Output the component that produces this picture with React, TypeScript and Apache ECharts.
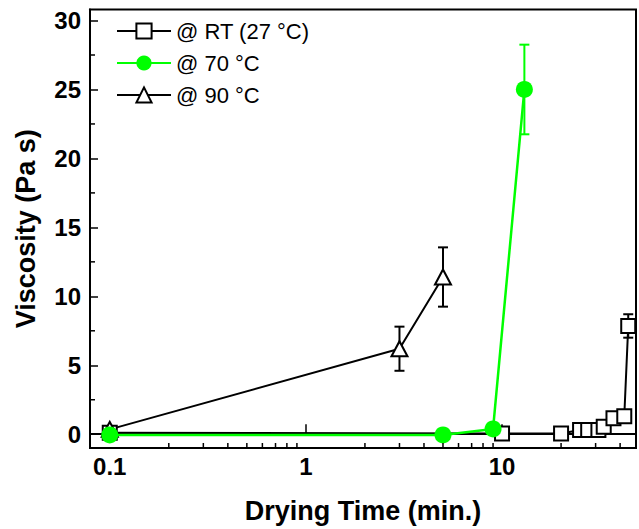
import React, { useEffect, useRef } from "react";
import * as echarts from "echarts";

// ---- data ----
const rtTime = [0.1, 10, 20, 25, 27.5, 31, 33, 37, 42, 44];
const rtVisc = [0.1, 0.05, 0.05, 0.3, 0.3, 0.3, 0.55, 1.15, 1.3, 7.85];
const rtErr = [0, 0, 0, 0, 0, 0, 0, 0, 0, 0.85];

const t70Time = [0.1, 5, 9, 13];
const t70Visc = [-0.05, -0.05, 0.38, 25];
const t70Err = [0, 0, 0, 3.25];

const t90Time = [0.1, 3, 5];
const t90Visc = [0.35, 6.2, 11.4];
const t90Err = [0, 1.6, 2.15];

const seriesNames = ["@ RT (27 °C)", "@ 70 °C", "@ 90 °C"];
const yMajor = [0, 5, 10, 15, 20, 25, 30];
const yMinor = [2.5, 7.5, 12.5, 17.5, 22.5, 27.5];
const xMajorLabels = ["0.1", "1", "10"];
const xMinor = [0.2, 0.3, 0.4, 0.5, 0.6, 0.7, 0.8, 0.9, 2, 3, 4, 5, 6, 7, 8, 9, 20, 30, 40];

const FONT = "Liberation Sans, Arial, Helvetica, sans-serif";
const GREEN = "#00ff00";

function pairs(xs: number[], ys: number[]) {
  return xs.map((x, i) => [x, ys[i]]);
}
function errData(xs: number[], ys: number[], es: number[]) {
  return xs
    .map((x, i) => [x, ys[i] - es[i], ys[i] + es[i], es[i]])
    .filter((d) => d[3] > 0);
}

function errorBarSeries(data: number[][], color: string) {
  return {
    type: "custom",
    silent: true,
    z: 1,
    encode: { x: 0, y: [1, 2] },
    data,
    renderItem: (params: any, api: any) => {
      const x = api.value(0);
      const p1 = api.coord([x, api.value(2)]);
      const p2 = api.coord([x, api.value(1)]);
      const hw = 5;
      const st = { stroke: color, lineWidth: 2 };
      return {
        type: "group",
        children: [
          { type: "line", shape: { x1: p1[0], y1: p1[1], x2: p2[0], y2: p2[1] }, style: st },
          { type: "line", shape: { x1: p1[0] - hw, y1: p1[1], x2: p1[0] + hw, y2: p1[1] }, style: st },
          { type: "line", shape: { x1: p2[0] - hw, y1: p2[1], x2: p2[0] + hw, y2: p2[1] }, style: st },
        ],
      };
    },
  };
}

export default function App() {
  const ref = useRef<HTMLDivElement>(null);
  useEffect(() => {
    if (!ref.current) return;
    const chart = echarts.init(ref.current, undefined, { renderer: "svg" });
    const option: any = {
      animation: false,
      backgroundColor: "#fff",
      grid: {
        left: 90,
        top: 9.5,
        right: -5,
        bottom: 79,
        show: true,
        borderColor: "#000",
        borderWidth: 2,
        backgroundColor: "transparent",
      },
      legend: {
        orient: "vertical",
        left: 116,
        top: 20,
        padding: 0,
        itemWidth: 54,
        itemHeight: 19,
        itemGap: 10,
        data: seriesNames,
        textStyle: { fontFamily: FONT, fontSize: 22, color: "#000" },
      },
      xAxis: {
        type: "log",
        logBase: 10,
        min: 0.0793,
        max: 48.2,
        name: "Drying Time (min.)",
        nameLocation: "middle",
        nameGap: 49,
        nameTextStyle: { fontFamily: FONT, fontSize: 27, fontWeight: "bold", color: "#000" },
        axisLine: { lineStyle: { color: "#000", width: 2 } },
        axisTick: { inside: true, length: 10, lineStyle: { color: "#000", width: 1.5 } },
        axisLabel: {
          margin: 6,
          fontFamily: FONT,
          fontSize: 24,
          fontWeight: "bold",
          color: "#000",
          formatter: (v: number) => {
            const l = Math.log10(v);
            const r = Math.round(l);
            if (Math.abs(l - r) > 1e-6) return "";
            const idx = r + 1;
            return xMajorLabels[idx] ?? "";
          },
        },
        splitLine: { show: false },
        minorTick: { show: false },
      },
      yAxis: {
        type: "value",
        min: -1,
        max: 30.8,
        name: "Viscosity (Pa s)",
        nameLocation: "middle",
        nameGap: 51,
        nameTextStyle: { fontFamily: FONT, fontSize: 27, fontWeight: "bold", color: "#000" },
        axisLine: { show: true, lineStyle: { color: "#000", width: 2 } },
        axisTick: {
          inside: true,
          length: 8,
          customValues: yMajor,
          lineStyle: { color: "#000", width: 1.5 },
        },
        axisLabel: {
          margin: 9,
          customValues: yMajor,
          fontFamily: FONT,
          fontSize: 24,
          fontWeight: "bold",
          color: "#000",
        },
        splitLine: { show: false },
      },
      series: [
        // minor ticks on x axis
        {
          type: "custom",
          silent: true,
          z: 5,
          data: xMinor.map((v) => [v, 0]),
          encode: { x: 0, y: 1 },
          renderItem: (params: any, api: any) => {
            const p = api.coord([api.value(0), 0]);
            const cs = params.coordSys;
            const b = cs.y + cs.height;
            return {
              type: "line",
              shape: { x1: p[0], y1: b, x2: p[0], y2: b - 5 },
              style: { stroke: "#000", lineWidth: 1.5 },
            };
          },
        },
        // minor ticks on y axis
        {
          type: "custom",
          silent: true,
          z: 5,
          data: yMinor.map((v) => [1, v]),
          encode: { x: 0, y: 1 },
          renderItem: (params: any, api: any) => {
            const p = api.coord([1, api.value(1)]);
            const cs = params.coordSys;
            return {
              type: "line",
              shape: { x1: cs.x, y1: p[1], x2: cs.x + 5, y2: p[1] },
              style: { stroke: "#000", lineWidth: 1.5 },
            };
          },
        },
        errorBarSeries(errData(rtTime, rtVisc, rtErr), "#000"),
        errorBarSeries(errData(t90Time, t90Visc, t90Err), "#000"),
        errorBarSeries(errData(t70Time, t70Visc, t70Err), GREEN),
        {
          name: seriesNames[0],
          type: "line",
          z: 3,
          data: pairs(rtTime, rtVisc),
          symbol: "emptyRect",
          symbolSize: 14,
          lineStyle: { color: "#000", width: 2 },
          itemStyle: { color: "#000", borderColor: "#000", borderWidth: 2 },
        },
        {
          name: seriesNames[2],
          type: "line",
          z: 3,
          data: pairs(t90Time, t90Visc),
          symbol: "emptyTriangle",
          symbolSize: [16, 15],
          lineStyle: { color: "#000", width: 2 },
          itemStyle: { color: "#000", borderColor: "#000", borderWidth: 2 },
        },
        {
          name: seriesNames[1],
          type: "line",
          z: 4,
          data: pairs(t70Time, t70Visc),
          symbol: "circle",
          symbolSize: 17,
          lineStyle: { color: GREEN, width: 2.5 },
          itemStyle: { color: GREEN },
        },
      ],
    };
    chart.setOption(option);
    return () => chart.dispose();
  }, []);
  return (
    <div
      ref={ref}
      style={{ position: "absolute", left: 0, top: 0, width: 639, height: 529 }}
    />
  );
}
